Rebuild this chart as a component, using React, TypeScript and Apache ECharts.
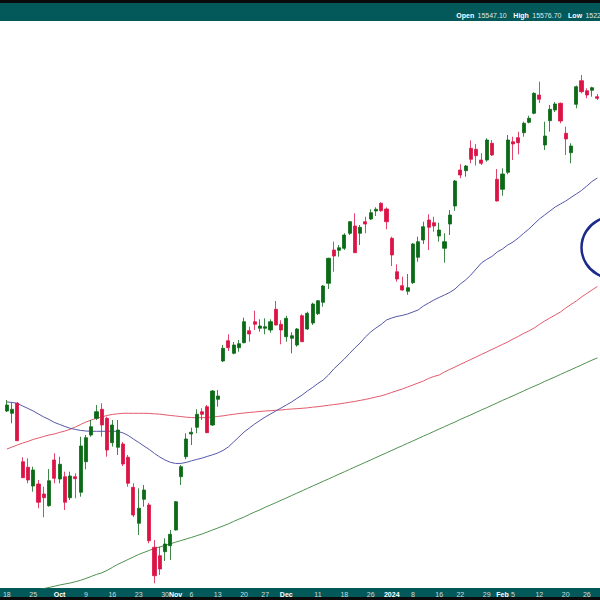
import React, { useEffect, useRef } from "react";
import * as echarts from "echarts";

const monthDays: [string, number[]][] = [
  ["2023-09", [18, 19, 20, 21, 22, 25, 26, 27, 28, 29]],
  ["2023-10", [2, 3, 4, 5, 6, 9, 10, 11, 12, 13, 16, 17, 18, 19, 20, 23, 24, 25, 26, 27, 30, 31]],
  ["2023-11", [1, 2, 3, 6, 7, 8, 9, 10, 13, 14, 15, 16, 17, 20, 21, 22, 24, 27, 28, 29, 30]],
  ["2023-12", [1, 4, 5, 6, 7, 8, 11, 12, 13, 14, 15, 18, 19, 20, 21, 22, 26, 27, 28, 29]],
  ["2024-01", [2, 3, 4, 5, 8, 9, 10, 11, 12, 16, 17, 18, 19, 22, 23, 24, 25, 26, 29, 30, 31]],
  ["2024-02", [1, 2, 5, 6, 7, 8, 9, 12, 13, 14, 15, 16, 20, 21, 22, 23, 26, 27, 28]],
];
const dates = monthDays.flatMap(([m, ds]) => ds.map((d) => `${m}-${String(d).padStart(2, "0")}`));

// [date, label, isMonth]
const tickLabels: [string, string, boolean][] = [
  ["2023-09-18", "18", false], ["2023-09-25", "25", false], ["2023-10-02", "Oct", true],
  ["2023-10-09", "9", false], ["2023-10-16", "16", false], ["2023-10-23", "23", false],
  ["2023-10-30", "30", false], ["2023-11-01", "Nov", true], ["2023-11-06", "6", false],
  ["2023-11-13", "13", false], ["2023-11-20", "20", false], ["2023-11-27", "27", false],
  ["2023-12-01", "Dec", true], ["2023-12-11", "11", false], ["2023-12-18", "18", false],
  ["2023-12-26", "26", false], ["2024-01-02", "2024", true], ["2024-01-08", "8", false],
  ["2024-01-16", "16", false], ["2024-01-22", "22", false], ["2024-01-29", "29", false],
  ["2024-02-01", "Feb", true], ["2024-02-05", "5", false], ["2024-02-12", "12", false],
  ["2024-02-20", "20", false], ["2024-02-26", "26", false],
];

// [open, close, low, high]
const candles: number[][] = [
  [13723, 13765, 13716, 13800], [13707, 13735, 13637, 13779], [13777, 13515, 13513, 13786],
  [13368, 13256, 13254, 13399], [13329, 13240, 13217, 13392], [13198, 13310, 13158, 13333],
  [13212, 13084, 13042, 13240], [13142, 13116, 12979, 13193], [13060, 13235, 13053, 13317],
  [13380, 13252, 13217, 13427], [13247, 13350, 13217, 13403], [13263, 13084, 13030, 13298],
  [13116, 13268, 13100, 13298], [13263, 13249, 13112, 13287], [13154, 13478, 13123, 13543],
  [13368, 13536, 13315, 13555], [13555, 13613, 13543, 13660], [13672, 13718, 13660, 13765],
  [13735, 13625, 13543, 13777], [13672, 13450, 13403, 13683], [13501, 13625, 13473, 13660],
  [13469, 13590, 13415, 13660], [13492, 13352, 13338, 13506], [13399, 13217, 13193, 13415],
  [13189, 12995, 12981, 13217], [12937, 13042, 12855, 13182], [13105, 13170, 13053, 13205],
  [13065, 12815, 12797, 13079], [12769, 12570, 12517, 12820], [12710, 12617, 12575, 12773],
  [12738, 12792, 12673, 12832], [12780, 12860, 12680, 12890], [12890, 13088, 12887, 13093],
  [13263, 13333, 13205, 13345], [13403, 13527, 13385, 13567], [13562, 13574, 13485, 13606],
  [13609, 13700, 13567, 13735], [13718, 13700, 13660, 13742], [13753, 13571, 13569, 13765],
  [13625, 13863, 13618, 13870], [13805, 13828, 13753, 13870], [14073, 14162, 14066, 14185],
  [14215, 14166, 14143, 14260], [14127, 14185, 14120, 14206], [14166, 14194, 14138, 14220],
  [14201, 14348, 14197, 14376], [14285, 14262, 14208, 14313], [14348, 14330, 14290, 14425],
  [14302, 14318, 14278, 14365], [14302, 14313, 14260, 14372], [14290, 14348, 14271, 14365],
  [14435, 14325, 14322, 14493], [14330, 14290, 14190, 14358], [14243, 14372, 14208, 14390],
  [14232, 14250, 14127, 14274], [14185, 14297, 14173, 14304], [14390, 14208, 14206, 14400],
  [14297, 14407, 14290, 14418], [14339, 14472, 14325, 14481], [14404, 14495, 14395, 14500],
  [14484, 14598, 14453, 14605], [14617, 14792, 14577, 14796], [14850, 14808, 14698, 14908],
  [14848, 14866, 14803, 14885], [14862, 14955, 14850, 14967], [14967, 15048, 14955, 15053],
  [15018, 14831, 14829, 15107], [14967, 15009, 14885, 15025], [15048, 15032, 14967, 15083],
  [15067, 15111, 15060, 15135], [15123, 15135, 15088, 15149], [15177, 15125, 15118, 15184],
  [15137, 15048, 14995, 15148], [14932, 14815, 14738, 14943], [14698, 14647, 14628, 14750],
  [14600, 14570, 14565, 14663], [14561, 14586, 14537, 14682], [14621, 14892, 14612, 14899],
  [14799, 14908, 14768, 14943], [14920, 15013, 14892, 15048], [15060, 15009, 14850, 15100],
  [15041, 15018, 14978, 15083], [14948, 14990, 14908, 15041], [14862, 14908, 14761, 14967],
  [15032, 15095, 14955, 15130], [15158, 15333, 15125, 15340], [15410, 15375, 15352, 15450],
  [15405, 15438, 15363, 15445], [15562, 15485, 15457, 15617], [15555, 15510, 15442, 15591],
  [15480, 15457, 15445, 15527], [15480, 15620, 15468, 15632], [15597, 15515, 15508, 15620],
  [15345, 15193, 15190, 15417], [15275, 15382, 15230, 15422], [15394, 15620, 15380, 15655],
  [15608, 15592, 15480, 15643], [15636, 15601, 15520, 15678], [15671, 15737, 15643, 15748],
  [15744, 15772, 15737, 15790], [15807, 15947, 15800, 15954], [15935, 15905, 15879, 16028],
  [15585, 15648, 15550, 15748], [15755, 15835, 15678, 15865], [15830, 15872, 15816, 15886],
  [15877, 15753, 15737, 15882], [15667, 15627, 15515, 15713], [15531, 15578, 15457, 15597],
  [15870, 15993, 15842, 16001], [16035, 15958, 15947, 16075], [15965, 15935, 15912, 15982],
  [15968, 15986, 15923, 15993], [15923, 15912, 15900, 15942],
];

const ma50: number[] = [
  13786, 13783, 13776, 13758, 13741, 13723, 13702, 13681, 13664, 13643,
  13629, 13615, 13602, 13594, 13587, 13583, 13581, 13581, 13581, 13581,
  13582, 13580, 13570, 13552, 13527, 13503, 13478, 13454, 13426, 13401,
  13380, 13364, 13356, 13356, 13363, 13374, 13384, 13393, 13405, 13416,
  13429, 13447, 13471, 13506, 13541, 13576, 13604, 13632, 13657, 13681,
  13702, 13723, 13744, 13765, 13786, 13811, 13835, 13863, 13888, 13916,
  13940, 13975, 14017, 14052, 14087, 14126, 14164, 14199, 14241, 14276,
  14304, 14329, 14360, 14374, 14385, 14392, 14402, 14416, 14430, 14458,
  14479, 14500, 14518, 14535, 14553, 14577, 14612, 14640, 14675, 14717,
  14759, 14784, 14805, 14836, 14857, 14885, 14906, 14934, 14966, 14997,
  15032, 15067, 15095, 15123, 15151, 15172, 15193, 15218, 15242, 15267,
  15298, 15330, 15354,
];

const ma100: number[] = [
  13457, 13471, 13485, 13499, 13510, 13524, 13534, 13545, 13555, 13562,
  13573, 13583, 13595, 13611, 13629, 13646, 13660, 13672, 13681, 13692,
  13699, 13703, 13707, 13707, 13707, 13707, 13707, 13706, 13703, 13701,
  13696, 13692, 13688, 13684, 13680, 13677, 13676, 13676, 13678, 13680,
  13685, 13689, 13695, 13700, 13705, 13709, 13713, 13716, 13720, 13723,
  13725, 13728, 13730, 13734, 13737, 13739, 13742, 13745, 13750, 13753,
  13758, 13763, 13768, 13772, 13778, 13784, 13790, 13797, 13804, 13812,
  13821, 13829, 13840, 13853, 13865, 13877, 13891, 13905, 13919, 13933,
  13951, 13965, 13975, 13996, 14014, 14031, 14049, 14066, 14084, 14101,
  14119, 14136, 14154, 14171, 14189, 14206, 14227, 14245, 14266, 14283,
  14304, 14329, 14353, 14374, 14395, 14416, 14444, 14469, 14493, 14521,
  14546, 14570, 14595,
];

const ma200: number[] = [
  12414, 12421, 12432, 12442, 12453, 12463, 12471, 12480, 12488, 12496,
  12505, 12512, 12519, 12528, 12538, 12551, 12565, 12579, 12590, 12607,
  12628, 12649, 12666, 12684, 12701, 12719, 12733, 12747, 12761, 12771,
  12783, 12793, 12805, 12816, 12827, 12838, 12850, 12862, 12876, 12890,
  12904, 12918, 12933, 12950, 12966, 12981, 12999, 13016, 13031, 13049,
  13065, 13081, 13098, 13114, 13131, 13148, 13164, 13181, 13198, 13214,
  13231, 13247, 13264, 13281, 13297, 13314, 13331, 13347, 13364, 13380,
  13397, 13414, 13430, 13447, 13464, 13480, 13497, 13513, 13530, 13547,
  13563, 13580, 13597, 13613, 13630, 13646, 13664, 13680, 13696, 13713,
  13730, 13746, 13763, 13780, 13797, 13813, 13829, 13846, 13863, 13880,
  13896, 13912, 13930, 13946, 13962, 13979, 13996, 14012, 14029, 14045,
  14063, 14079, 14095,
];

const headerParts: [string, string][] = [
  ["Open", "15547.10"],
  ["High", "15576.70"],
  ["Low", "1522"],
];

const TEAL = "#03585a";
const UP = "#0b6a16";
const DOWN = "#dc1446";

export default function App() {
  const ref = useRef<HTMLDivElement>(null);
  useEffect(() => {
    if (!ref.current) return;
    const chart = echarts.init(ref.current, undefined, { renderer: "svg" });
    const labelMap = new Map(tickLabels.map(([d, t, b]) => [d, { t, b }]));
    const headerText = headerParts.map(([k, v]) => `{k|${k}} {v|${v}}`).join("  ");
    chart.setOption({
      animation: false,
      backgroundColor: "#ffffff",
      grid: { left: 0.33, right: -3.3, top: 22, bottom: 12, containLabel: false },
      xAxis: {
        type: "category",
        data: dates,
        boundaryGap: true,
        axisLine: { show: false },
        axisTick: { show: false },
        splitLine: { show: false },
        axisLabel: {
          interval: (_i: number, v: string) => labelMap.has(v),
          hideOverlap: false,
          margin: 2,
          formatter: (v: string) => {
            const l = labelMap.get(v);
            if (!l) return "";
            return l.b ? `{b|${l.t}}` : `{n|${l.t}}`;
          },
          rich: {
            n: { color: "#cfdcdc", fontSize: 7, fontFamily: "Liberation Sans, Arial", lineHeight: 8 },
            b: { color: "#ffffff", fontSize: 7, fontWeight: "bold", fontFamily: "Liberation Sans, Arial", lineHeight: 8 },
          },
        },
      },
      yAxis: {
        type: "value",
        min: 12484,
        max: 16446,
        show: false,
        splitLine: { show: false },
      },
      series: [
        {
          type: "line",
          data: ma200,
          showSymbol: false,
          clip: true,
          lineStyle: { color: "#4f914f", width: 1 },
          z: 1,
        },
        {
          type: "line",
          data: ma100,
          showSymbol: false,
          clip: true,
          lineStyle: { color: "#e25a6c", width: 1 },
          z: 1,
        },
        {
          type: "line",
          data: ma50,
          showSymbol: false,
          clip: true,
          lineStyle: { color: "#5557a8", width: 1 },
          z: 1,
        },
        {
          type: "candlestick",
          data: candles,
          barWidth: 3.6,
          clip: true,
          itemStyle: {
            color: UP,
            color0: DOWN,
            borderColor: UP,
            borderColor0: DOWN,
            borderWidth: 0.8,
          },
          z: 3,
        },
      ],
      graphic: [
        { type: "rect", z: -1, shape: { x: 0, y: 0, width: 600, height: 3 }, style: { fill: "#0b0b0b" } },
        { type: "rect", z: -1, shape: { x: 0, y: 3, width: 600, height: 18 }, style: { fill: TEAL } },
        { type: "rect", z: -1, shape: { x: 0, y: 588, width: 600, height: 9 }, style: { fill: TEAL } },
        { type: "rect", z: -1, shape: { x: 0, y: 597, width: 600, height: 3 }, style: { fill: "#0b0b0b" } },
        {
          type: "text",
          z: 20,
          x: 601,
          y: 15,
          style: {
            text: headerText,
            align: "right",
            verticalAlign: "middle",
            rich: {
              k: { fill: "#ffffff", fontSize: 7, fontWeight: "bold", fontFamily: "Liberation Sans, Arial" },
              v: { fill: "#dfe8e8", fontSize: 7, fontFamily: "Liberation Sans, Arial" },
            },
          },
        },
        {
          type: "circle",
          z: 20,
          shape: { cx: 612, cy: 247.5, r: 30.5 },
          style: { fill: "none", stroke: "#1c2a8a", lineWidth: 2.5 },
        },
      ],
    });
    return () => chart.dispose();
  }, []);
  return (
    <div
      ref={ref}
      style={{ position: "absolute", left: 0, top: 0, width: 600, height: 600, background: "#fff" }}
    />
  );
}
